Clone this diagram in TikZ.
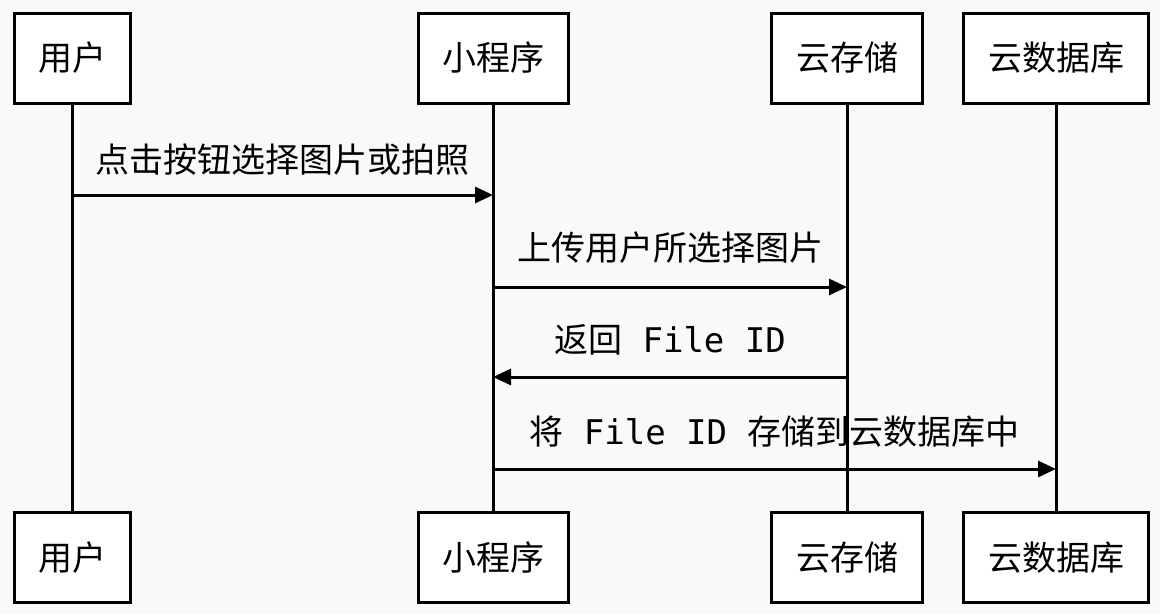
\documentclass[tikz,border=0pt]{standalone}
\usepackage{fontspec}
\setmainfont{Noto Sans CJK SC}
\newfontfamily\monof{DejaVu Sans Mono}
\usetikzlibrary{arrows.meta}
\definecolor{bgc}{HTML}{F9F9FA}
\begin{document}
\begin{tikzpicture}[x=1pt,y=-1pt,
  actor/.style={draw, line width=3pt, fill=white, minimum height=90pt, inner sep=0pt, font=\fontsize{34}{40}\selectfont},
  life/.style={line width=3pt},
  msg/.style={line width=3pt, -{Triangle[length=18pt,width=16pt]}},
  lbl/.style={font=\fontsize{34}{40}\selectfont, yshift=37pt}]
\fill[bgc] (0,0) rectangle (1160,614);
\useasboundingbox (0,0) rectangle (1160,614);
% row helpers
\coordinate (r1) at (0,195);
\coordinate (r2) at (0,287);
\coordinate (r3) at (0,377);
\coordinate (r4) at (0,469);
% actors top
\node[actor, minimum width=116pt] (ut) at (72,58) {用户};
\node[actor, minimum width=150pt] (pt) at (493,58) {小程序};
\node[actor, minimum width=151pt] (st) at (847,58) {云存储};
\node[actor, minimum width=185pt] (dt) at (1056,58) {云数据库};
% actors bottom
\node[actor, minimum width=116pt] (ub) at (72,557.5) {用户};
\node[actor, minimum width=150pt] (pb) at (493,557.5) {小程序};
\node[actor, minimum width=151pt] (sb) at (847,557.5) {云存储};
\node[actor, minimum width=185pt] (db) at (1056,557.5) {云数据库};
% lifelines
\draw[life] (ut.south) -- (ub.north);
\draw[life] (pt.south) -- (pb.north);
\draw[life] (st.south) -- (sb.north);
\draw[life] (dt.south) -- (db.north);
% messages
\draw[msg] (ut.south |- r1) -- node[lbl, yshift=-2pt] {点击按钮选择图片或拍照} (pt.south |- r1);
\draw[msg] (pt.south |- r2) -- node[lbl, yshift=2pt] {上传用户所选择图片} (st.south |- r2);
\draw[msg] (st.south |- r3) -- node[lbl] {返回{\monof\ File ID}} (pt.south |- r3);
\draw[msg] (pt.south |- r4) -- node[lbl] {将{\monof\ File ID\ }存储到云数据库中} (dt.south |- r4);
\end{tikzpicture}
\end{document}
